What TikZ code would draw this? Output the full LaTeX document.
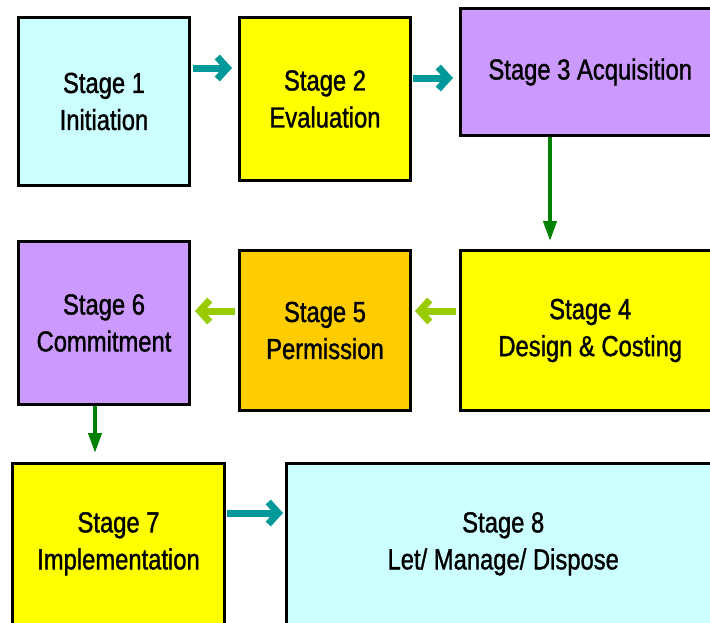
\documentclass[tikz,border=0pt]{standalone}
\usepackage{fontspec}
\setmainfont[FakeStretch=0.82,FakeBold=1.2]{Liberation Sans}
\usepackage{xcolor}
\usepackage{tikz}
\usetikzlibrary{arrows.meta}
\definecolor{stagecyan}{RGB}{204,255,255}
\definecolor{stageyellow}{RGB}{255,255,0}
\definecolor{stagepurple}{RGB}{204,153,255}
\definecolor{stageorange}{RGB}{255,204,0}
\definecolor{flowteal}{RGB}{0,153,153}
\definecolor{flowlime}{RGB}{153,204,0}
\definecolor{flowgreen}{RGB}{0,128,0}

\begin{document}
\begin{tikzpicture}[
  x=1pt, y=-1pt,
  font=\fontsize{29}{37}\selectfont,
  stage/.style={draw, line width=3pt, align=center},
  fwd/.style={flowteal, line width=7pt, -{Straight Barb[length=10pt,width=22pt]}},
  back/.style={flowlime, line width=7pt, -{Straight Barb[length=10pt,width=22pt]}},
  down/.style={flowgreen, line width=4pt, -{Triangle[length=20pt,width=13pt]}}
]
\useasboundingbox (0,0) rectangle (710,622);
\clip (0,0) rectangle (710,622);

% top row
\node[stage, fill=stagecyan, minimum width=171pt, minimum height=168pt] (init) at (104,101.5) {Stage 1\\Initiation};
\node[stage, fill=stageyellow, minimum width=171pt, minimum height=163pt] (eval) at (325,99) {Stage 2\\Evaluation};
\node[stage, fill=stagepurple, minimum width=259.5pt, minimum height=127pt] (acq) at (590.25,72) {Stage 3 Acquisition};

% middle row, running right to left
\node[stage, fill=stageyellow, minimum width=259.5pt, minimum height=160pt] (design) at (590.25,330.5) {Stage 4\\Design \& Costing};
\node[stage, fill=stageorange, minimum width=171pt, minimum height=160pt] (perm) at (325,330.5) {Stage 5\\Permission};
\node[stage, fill=stagepurple, minimum width=171pt, minimum height=163pt] (commit) at (104,323) {Stage 6\\Commitment};

% bottom row
\node[stage, fill=stageyellow, minimum width=212pt, minimum height=160.5pt] (impl) at (118.5,543.75) {Stage 7\\Implementation};
\node[stage, fill=stagecyan, minimum width=433.5pt, minimum height=160.5pt] (let) at (503.25,543.75) {Stage 8\\Let/ Manage/ Dispose};

% arrows
\draw[fwd] ([xshift=2pt,yshift=33.5pt]init.east) -- ([xshift=-6pt,yshift=31pt]eval.west);
\draw[fwd] ([xshift=1pt,yshift=21pt]eval.east) -- ([xshift=-6pt,yshift=-6pt]acq.west);
\draw[down] ([xshift=-40.25pt]acq.south) -- ([xshift=-40.25pt,yshift=8pt]design.north);
\draw[back] ([xshift=-3pt,yshift=19.5pt]design.west) -- ([xshift=3pt,yshift=19.5pt]perm.east);
\draw[back] ([xshift=-3pt,yshift=19.5pt]perm.west) -- ([xshift=4pt,yshift=12pt]commit.east);
\draw[down] ([xshift=-9pt]commit.south) -- ([xshift=-23.5pt,yshift=9pt]impl.north);
\draw[fwd] ([xshift=1pt,yshift=30.75pt]impl.east) -- ([xshift=-2pt,yshift=30.75pt]let.west);
\end{tikzpicture}
\end{document}
